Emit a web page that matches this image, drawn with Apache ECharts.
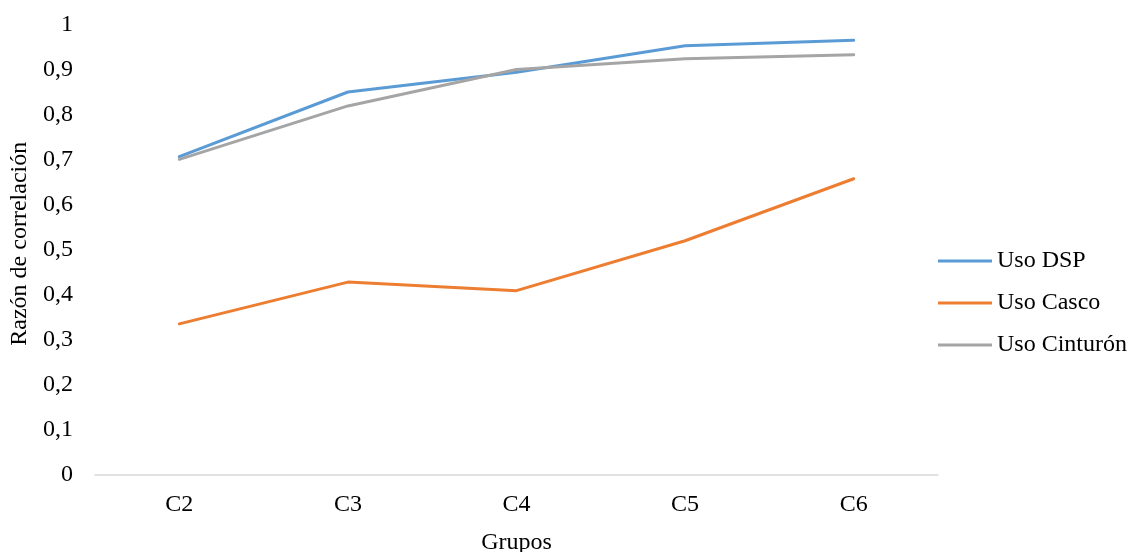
<!DOCTYPE html>
<html>
<head>
<meta charset="utf-8">
<script src="https://cdn.jsdelivr.net/npm/echarts@6/dist/echarts.min.js"></script>
<style>
html,body{margin:0;padding:0;background:#fff;}
#chart{width:1128px;height:552px;}
</style>
</head>
<body>
<div id="chart"></div>
<script>
var categories = ['C2', 'C3', 'C4', 'C5', 'C6'];
var usoDSP = [0.707, 0.851, 0.895, 0.954, 0.966];
var usoCasco = [0.335, 0.428, 0.409, 0.520, 0.658];
var usoCinturon = [0.701, 0.820, 0.901, 0.925, 0.934];
var seriesNames = ['Uso DSP', 'Uso Casco', 'Uso Cinturón'];
var yTicks = { min: 0, max: 1, interval: 0.1 };

var font = '"Liberation Serif", "Times New Roman", serif';
var FS = 24;
var chart = echarts.init(document.getElementById('chart'));
function mk(name, data, color) {
  return {
    name: name, type: 'line', data: data, symbol: 'none', smooth: false,
    lineStyle: { color: color, width: 3, cap: 'round', join: 'round' },
    itemStyle: { color: color }
  };
}
chart.setOption({
  backgroundColor: '#fff',
  animation: false,
  textStyle: { fontFamily: font },
  grid: { left: 95, right: 190, top: 25, bottom: 77.5, containLabel: false, outerBoundsMode: 'none' },
  legend: {
    orient: 'vertical', left: 938, top: 249, padding: 0,
    icon: 'rect', itemWidth: 54, itemHeight: 3, itemGap: 18,
    textStyle: { fontFamily: font, fontSize: FS, color: '#000', lineHeight: 24 },
    data: seriesNames
  },
  xAxis: {
    type: 'category', data: categories, boundaryGap: true,
    axisLine: { lineStyle: { color: '#D9D9D9', width: 1.5 } },
    axisTick: { show: false },
    axisLabel: { color: '#000', fontSize: FS, fontFamily: font, margin: 18 },
    name: 'Grupos', nameLocation: 'middle', nameGap: 56,
    nameTextStyle: { color: '#000', fontSize: FS, fontFamily: font }
  },
  yAxis: {
    type: 'value', min: yTicks.min, max: yTicks.max, interval: yTicks.interval,
    splitLine: { show: false },
    axisLine: { show: false }, axisTick: { show: false },
    axisLabel: {
      color: '#000', fontSize: FS, fontFamily: font, margin: 22,
      formatter: function (v) { return String(Math.round(v * 10) / 10).replace('.', ','); }
    },
    name: 'Razón de correlación', nameLocation: 'middle', nameGap: 63, nameRotate: 90,
    nameTextStyle: { color: '#000', fontSize: FS, fontFamily: font, padding: [0, 0, 0, 12] }
  },
  series: [
    mk(seriesNames[0], usoDSP, '#5B9BD5'),
    mk(seriesNames[1], usoCasco, '#ED7D31'),
    mk(seriesNames[2], usoCinturon, '#A5A5A5')
  ]
});
</script>
</body>
</html>
